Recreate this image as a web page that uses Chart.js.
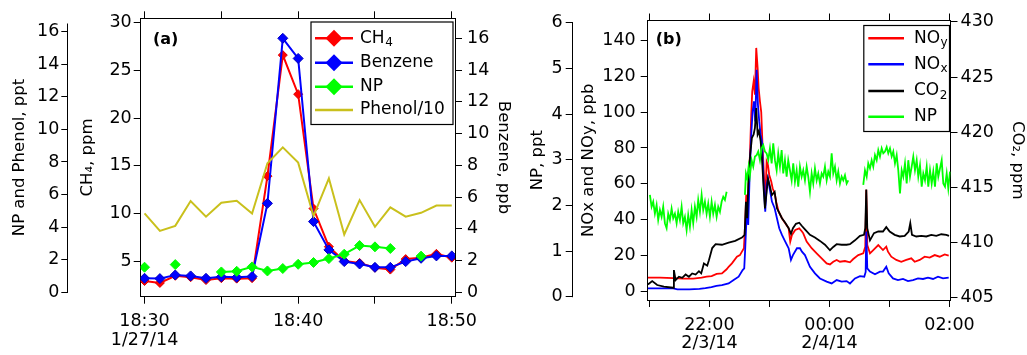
<!DOCTYPE html>
<html><head><meta charset="utf-8">
<script src="https://cdn.jsdelivr.net/npm/chart.js@4.4.1/dist/chart.umd.min.js"></script>
<style>
html,body{margin:0;padding:0;background:#fff;overflow:hidden;width:1027px;height:355px}
#wrapL{position:absolute;left:0;top:0;width:515px;height:355px}
#wrapR{position:absolute;left:517px;top:0;width:510px;height:355px}
canvas{display:block}
</style></head><body>
<div id="wrapL"><canvas id="cL" width="515" height="355" style="width:515px;height:355px"></canvas></div>
<div id="wrapR"><canvas id="cR" width="510" height="355" style="width:510px;height:355px"></canvas></div>
<script>
// ---------- Panel (a) data: minutes after 18:00 on 1/27/14 ----------
const leftTime = [30,31,32,33,34,35,36,37,38,39,40,41,42,43,44,45,46,47,48,49,50];
const ch4Vals = [2.9,2.7,3.45,3.3,3.0,3.2,3.15,3.2,13.9,26.6,22.5,10.5,6.5,5.0,4.8,4.3,4.1,5.2,5.35,5.75,5.35];
const benzeneVals = [0.88,0.86,1.09,1.03,0.88,0.97,0.94,0.99,5.6,16.0,14.73,4.45,2.67,1.93,1.78,1.57,1.57,1.93,2.14,2.29,2.29];
const npLeftVals = [1.54,null,1.70,null,null,1.25,1.29,1.56,1.31,1.46,1.72,1.83,2.07,2.34,2.87,2.79,2.69,null,2.22,null,null];
const phenol10Vals = [4.84,3.77,4.08,5.6,4.64,5.5,5.62,4.84,7.92,8.9,7.96,4.68,7.0,3.55,5.66,4.02,5.21,4.64,4.88,5.33,5.33];
const leftXTicks = [30,35,40,45,50];
const leftXLabels = [['18:30','1/27/14'],'','18:40','','18:50'];
const npPhenolTicks = [0,2,4,6,8,10,12,14,16];
const ch4Ticks = [5,10,15,20,25,30];
const benzeneTicks = [0,2,4,6,8,10,12,14,16];
const legendLeftLabels = [['CH','4'],['Benzene'],['NP'],['Phenol/10']];

// ---------- Panel (b) data: minutes after 21:00 on 2/3/14 ----------
const noyTime = [-1.5,0.5,10.5,23.8,33.8,43.8,52.2,57.2,62.2,67.2,72.5,77.2,79.2,82.5,87.5,90.5,92.5,94.5,95.8,96.8,98.2,99.2,100.5,101.8,102.8,104.2,105.5,106.8,108.2,109.2,110.5,111.8,113.2,114.5,115.8,117.2,118.5,119.8,121.8,123.2,125.2,126.8,129.2,132.5,135.8,139.2,140.8,142.5,145.8,149.8,152.5,153.8,157.2,162.2,167.2,172.2,177.2,180.5,183.8,187.2,190.5,195.5,200.5,203.8,208.8,213.8,215.8,216.8,217.8,220.5,223.8,228.8,233.5,236.8,238.5,241.8,246.8,251.8,256.8,261.8,265.2,270.2,275.2,280.2,285.2,290.2,295.2,299.2];
const noyVals = [7.8,7.8,7.8,7.6,7.3,7.3,7.8,8.4,8.7,9.9,10.2,12.5,13.9,15.8,19.5,20.4,22.3,24.2,39,54,46.5,61.3,76,98.5,111.5,117,109.7,135.7,124.5,113.4,106,100,80,65,50,72.5,70.6,65,61.3,57.6,54.8,50,44.6,40.9,38.1,35.3,27.9,31.6,34.4,35.3,33.5,32.5,27.9,24.2,21.4,18.6,15.8,15.2,16.7,17.7,16.7,17.1,16.4,18.2,20.4,21.4,25,56.7,26,21.4,23.2,26,23.2,25.1,22.3,19.5,17.7,16.7,17.7,18.6,16.7,17.7,19.5,19.0,20.4,19.5,20.8,20.1];
const noxTime = [-1.5,0.5,23.8,28,40,50,56,62,67,72.5,79.2,84.2,89.2,93.2,94.8,95.8,97.5,98.8,100.2,101.8,103.2,104.5,105.8,107.2,108.5,109.8,111.2,112.5,114.2,115.8,117.2,118.5,120.2,122.5,125.2,127.5,129.8,132.5,135.8,139.2,141.5,143.5,147.5,150.5,152.5,155.5,160.5,165.5,170.5,177.2,182.2,187.2,192.2,197.2,200.5,205.5,210.5,214.8,216.2,216.8,217.8,220.5,225.5,230.5,233.5,236.8,239.2,243.5,248.5,253.5,258.5,263.5,268.5,273.5,278.5,283.5,288.5,293.5,299.2];
const noxVals = [1.9,1.9,1.9,1.3,1.3,1.6,2.0,2.6,3.3,3.7,4.6,6.5,8.4,12.1,13,24.2,46.5,37.2,65,87.4,100.4,106,94.8,123.6,104,94.8,87.4,83.7,61.3,44.6,59.5,63.2,57.6,50.2,46.5,40.9,35.3,31.6,27.9,24.2,17.7,20.4,24.2,24.2,22.3,20.4,13.9,10.2,7.4,5.6,4.6,6.5,5.6,5.9,4.6,7.4,8.7,8.4,11,33.5,13,11.2,9.7,11.2,11.2,13.9,10.2,7.4,6.5,7.1,5.9,6.5,7.4,7.1,7.8,7.1,8.4,7.4,7.8];
const co2Time = [-1.5,2.8,7.8,14.5,23.8,24.5,26.2,29.5,32.8,36.2,39.5,42.8,46.2,49.5,51.8,54.5,57.8,59.5,62.8,66.2,72.5,79.2,85.8,92.5,95.2,96.5,97.8,99.2,100.8,102.5,104.2,105.5,106.8,108.2,109.5,111.2,112.5,114.2,115.5,117.2,118.5,120.2,122.5,125.2,127.5,129.8,132.5,135.8,139.2,141.5,143.5,146.5,149.8,152.5,155.5,160.5,165.5,170.5,175.5,180.5,183.8,187.2,192.2,197.2,200.5,205.5,210.5,214.5,215.8,216.8,217.8,220.5,224.5,228.8,233.5,236.8,240.2,245.2,250.2,255.2,259.2,260.8,262.5,266.8,271.8,276.8,281.8,286.8,291.8,296.8,299.5];
const co2Vals = [406.2,406.5,406.15,406.0,405.9,407.5,406.6,406.9,406.8,407.1,406.9,407.2,407.1,407.4,407.2,408.1,407.9,408.4,409.5,409.85,409.8,410.0,410.15,410.45,410.7,413.7,412.2,416.2,418.0,419.5,419.8,420.4,422.2,419.8,420.1,419.2,417.7,414.9,413.1,414.6,415.8,415.2,414.3,414.6,413.1,412.7,412.2,411.8,411.3,410.8,411.3,411.7,411.8,411.5,411.2,410.7,410.45,410.15,409.8,409.3,409.6,409.85,409.8,409.8,409.85,410.2,410.6,410.7,411.3,414.8,411.3,410.2,410.85,411.0,411.0,411.4,411.0,410.7,410.55,410.6,411.0,411.75,410.7,410.55,410.6,410.55,410.7,410.6,410.75,410.7,410.6];
const npRightTime = [0.5,2.2,3.8,5.5,7.2,8.8,10.5,12.2,13.8,15.5,17.2,18.8,20.5,22.2,23.8,25.5,27.2,28.8,30.5,32.2,33.8,35.5,37.2,38.8,40.5,42.2,43.8,45.5,47.2,48.8,50.5,52.2,53.8,55.5,57.2,58.8,60.5,62.2,63.8,65.5,67.2,68.8,70.5,72.2,73.8,75.5,77.2,
  86,
  95.5,96.5,97.8,99.2,100.5,102.2,103.8,105.5,107.2,108.8,110.5,112.2,113.8,115.5,117.2,118.8,120.5,122.2,123.8,125.5,127.2,128.8,130.5,132.2,133.8,135.5,137.2,138.8,140.5,142.2,143.8,145.5,147.2,148.8,150.5,152.2,153.8,155.5,157.2,158.8,160.5,162.2,163.8,165.5,167.2,168.8,170.5,172.2,173.8,175.5,177.2,178.8,180.5,182.2,183.8,185.5,187.2,188.8,190.5,192.2,193.8,195.5,197.2,198.8,
  206,
  213.8,215.5,217.2,218.8,220.5,222.2,223.8,225.5,227.2,228.8,230.5,232.2,233.8,235.5,237.2,238.8,240.5,242.2,243.8,245.5,247.2,248.8,250.5,252.2,253.8,255.5,257.2,258.8,260.5,262.2,263.8,265.5,267.2,268.8,270.5,272.2,273.8,275.5,277.2,278.8,280.5,282.2,283.8,285.5,287.2,288.8,290.5,292.2,293.8,295.5,297.2,298.8,300.5];
const npRightVals = [2.23,1.97,2.08,1.82,2.01,1.68,1.90,1.75,1.97,1.61,1.50,1.82,1.68,1.93,1.72,1.82,1.61,1.86,1.68,1.97,1.61,1.75,1.46,1.79,1.53,1.90,1.61,1.97,1.75,2.12,1.86,2.23,1.90,2.08,1.82,2.04,1.75,2.08,1.82,2.01,1.75,1.97,1.86,2.08,2.19,2.12,2.30,
  null,
  2.23,2.70,2.59,2.85,2.66,2.99,2.85,3.07,3.10,3.18,2.99,3.25,3.32,3.18,3.14,2.99,3.25,2.92,3.36,2.99,2.77,3.14,2.85,3.21,2.70,2.99,2.63,2.99,2.77,2.55,2.92,2.52,2.77,2.41,2.85,2.63,2.77,2.55,2.85,2.63,2.30,2.70,2.48,2.81,2.55,2.70,2.48,2.70,2.63,2.85,2.55,2.74,2.63,3.14,2.70,2.85,2.55,2.74,2.48,2.63,2.55,2.66,2.48,2.55,
  null,
  2.45,2.77,2.63,2.92,2.81,2.99,2.85,3.10,2.99,3.21,3.07,3.25,3.14,3.18,3.28,3.14,3.25,3.07,3.18,2.92,3.10,2.77,2.26,2.77,2.63,2.92,2.48,2.99,2.63,2.85,3.07,2.77,2.99,2.63,2.88,2.41,2.70,2.55,2.85,2.41,2.77,2.48,2.74,2.41,2.92,2.63,2.81,2.99,2.48,2.41,2.70,2.37,2.74];
const rightXTicks = [0,60,120,180,240,300];
const rightXLabels = ['',['22:00','2/3/14'],'',['00:00','2/4/14'],'','02:00'];
const npRightTicks = [0,1,2,3,4,5,6];
const noxTicks = [0,20,40,60,80,100,120,140];
const co2Ticks = [405,410,415,420,425,430];
const legendRightLabels = [['NO','y'],['NO','x'],['CO','2'],['NP']];

// ---------- helpers ----------
const FAM = '"DejaVu Sans", sans-serif';
const TICK_FONT = {family: FAM, size: 17.5, lineHeight: 1.05};
const TITLE_FONT = {family: FAM, size: 16.5, lineHeight: 1.2};
const GRID = {drawOnChartArea: false, drawTicks: true, tickLength: 7, color: '#000', tickColor: '#000', lineWidth: 1};
const BORDER = {display: true, color: '#000', width: 1};

function pts(xs, ys) { return xs.map((x, i) => ({x: x, y: ys[i]})); }

function yAxis(pos, min, max, tickVals, width, title, titlePad, tickPad, weight, showBorder) {
  return {
    type: 'linear', position: pos, min: min, max: max, weight: weight,
    afterBuildTicks: s => { s.ticks = tickVals.map(v => ({value: v})); },
    afterFit: s => { s.width = width; },
    ticks: {font: TICK_FONT, color: '#000', padding: tickPad, autoSkip: false},
    grid: GRID, border: {display: showBorder, color: '#000', width: 1},
    title: {display: true, text: title, font: TITLE_FONT, color: '#000', padding: {top: titlePad, bottom: 0}}
  };
}
function xAxis(pos, min, max, tickVals, labels, height, show) {
  return {
    type: 'linear', position: pos, min: min, max: max,
    afterBuildTicks: s => { s.ticks = tickVals.map(v => ({value: v})); },
    afterFit: s => { s.height = height; },
    ticks: {display: show, font: TICK_FONT, color: '#000', padding: 9, autoSkip: false, maxRotation: 0, minRotation: 0,
      callback: (v, i) => labels[i]},
    grid: GRID, border: BORDER
  };
}

function richText(ctx, parts, x, y) {
  ctx.font = '17px ' + FAM;
  ctx.fillStyle = '#000'; ctx.textBaseline = 'middle'; ctx.textAlign = 'left';
  ctx.fillText(parts[0], x, y);
  if (parts.length > 1) {
    const w = ctx.measureText(parts[0]).width;
    ctx.font = '12px ' + FAM;
    ctx.fillText(parts[1], x + w + 0.5, y + 5);
  }
}

function annotPlugin(cfg) {
  return {
    id: 'annot',
    afterDraw(chart) {
      const ctx = chart.ctx;
      ctx.save();
      // free-standing outer axis line, spanning its tick range
      const s = chart.scales[cfg.outerAxis];
      const ax = Math.round(s.right) - 0.5;
      ctx.strokeStyle = '#000'; ctx.lineWidth = 1;
      ctx.beginPath();
      ctx.moveTo(ax, s.getPixelForValue(cfg.outerTop));
      ctx.lineTo(ax, s.getPixelForValue(cfg.outerBottom) + 0.5);
      ctx.stroke();
      // panel label
      ctx.font = 'bold 16px ' + FAM;
      ctx.fillStyle = '#000'; ctx.textBaseline = 'middle'; ctx.textAlign = 'left';
      ctx.fillText(cfg.panel, cfg.panelX, cfg.panelY);
      // legend
      const b = cfg.box;
      ctx.fillStyle = '#fff';
      ctx.fillRect(b[0], b[1], b[2] - b[0], b[3] - b[1]);
      ctx.strokeStyle = '#000'; ctx.lineWidth = 1.2;
      ctx.strokeRect(b[0] + 0.5, b[1] + 0.5, b[2] - b[0], b[3] - b[1]);
      cfg.labels.forEach((lab, i) => {
        const ds = chart.data.datasets[i];
        const y = cfg.rows[i];
        ctx.strokeStyle = ds.borderColor; ctx.lineWidth = 2.5;
        ctx.beginPath(); ctx.moveTo(cfg.lineX[0], y); ctx.lineTo(cfg.lineX[1], y); ctx.stroke();
        if (ds.pointRadius > 0) {
          const cx = (cfg.lineX[0] + cfg.lineX[1]) / 2, r = 8.5;
          ctx.fillStyle = ds.borderColor;
          ctx.beginPath(); ctx.moveTo(cx, y - r); ctx.lineTo(cx + r, y); ctx.lineTo(cx, y + r); ctx.lineTo(cx - r, y); ctx.closePath(); ctx.fill();
        }
        richText(ctx, lab, cfg.textX, y);
      });
      ctx.restore();
    }
  };
}

Chart.defaults.font.family = FAM;
Chart.defaults.color = '#000';

// ---------- Panel (a) ----------
new Chart(document.getElementById('cL'), {
  type: 'line',
  data: {
    datasets: [
      {label: 'CH4', data: pts(leftTime, ch4Vals), yAxisID: 'yCH4', borderColor: '#ff0000', backgroundColor: '#ff0000',
       borderWidth: 2, pointStyle: 'rectRot', pointRadius: 4.5, pointBorderWidth: 1, pointBorderColor: '#e00000', order: 3},
      {label: 'Benzene', data: pts(leftTime, benzeneVals), yAxisID: 'yBenz', borderColor: '#0000ff', backgroundColor: '#0000ff',
       borderWidth: 2, pointStyle: 'rectRot', pointRadius: 5, pointBorderWidth: 1, pointBorderColor: '#0000c0', order: 2},
      {label: 'NP', data: pts(leftTime, npLeftVals), yAxisID: 'yNP', borderColor: '#00ff00', backgroundColor: '#00ff00',
       borderWidth: 2, pointStyle: 'rectRot', pointRadius: 5, pointBorderWidth: 1, order: 1},
      {label: 'Phenol/10', data: pts(leftTime, phenol10Vals), yAxisID: 'yNP', borderColor: '#c9c01c', backgroundColor: '#c9c01c',
       borderWidth: 2, pointRadius: 0, order: 0}
    ]
  },
  options: {
    responsive: false, animation: false, devicePixelRatio: 1,
    layout: {padding: 0},
    plugins: {legend: {display: false}, tooltip: {enabled: false}},
    scales: {
      x: xAxis('bottom', 29.75, 50.21, leftXTicks, leftXLabels, 58.3, true),
      xTop: xAxis('top', 29.75, 50.21, leftXTicks, leftXLabels, 18.3, false),
      yNP: yAxis('left', -0.27, 16.82, npPhenolTicks, 68.3, 'NP and Phenol, ppt', 10, 2, 1, false),
      yCH4: yAxis('left', 1.255, 30.46, ch4Ticks, 72.4, 'CH\u2084, ppm', 9.8, 2, 0, true),
      yBenz: yAxis('right', -0.28, 17.26, benzeneTicks, 60, 'Benzene, ppb', 1.8, 5, 0, true)
    }
  },
  plugins: [annotPlugin({panel: '(a)', panelX: 153, panelY: 40, box: [310.5, 21.5, 452.5, 124],
    rows: [38.3, 62.7, 86.7, 110], lineX: [315, 353], textX: 360, labels: legendLeftLabels,
    outerAxis: 'yNP', outerTop: 16.5, outerBottom: 0})]
});

// ---------- Panel (b) ----------
new Chart(document.getElementById('cR'), {
  type: 'line',
  data: {
    datasets: [
      {label: 'NOy', data: pts(noyTime, noyVals), yAxisID: 'yNOx', borderColor: '#ff0000', borderWidth: 1.8, pointRadius: 0, order: 3},
      {label: 'NOx', data: pts(noxTime, noxVals), yAxisID: 'yNOx', borderColor: '#0000ff', borderWidth: 1.8, pointRadius: 0, order: 2},
      {label: 'CO2', data: pts(co2Time, co2Vals), yAxisID: 'yCO2', borderColor: '#000000', borderWidth: 1.8, pointRadius: 0, order: 1},
      {label: 'NP', data: pts(npRightTime, npRightVals), yAxisID: 'yNP', borderColor: '#00ff00', borderWidth: 1.8, pointRadius: 0, order: 0}
    ]
  },
  options: {
    responsive: false, animation: false, devicePixelRatio: 1,
    layout: {padding: 0},
    plugins: {legend: {display: false}, tooltip: {enabled: false}},
    scales: {
      x: xAxis('bottom', -1.7, 301, rightXTicks, rightXLabels, 55, true),
      xTop: xAxis('top', -1.7, 301, rightXTicks, rightXLabels, 20.5, false),
      yNP: yAxis('left', -0.072, 6.05, npRightTicks, 55.7, 'NP, ppt', 11, 3, 1, false),
      yNOx: yAxis('left', -4.6, 150.96, noxTicks, 75, 'NOx and NOy, ppb', 6.3, 5, 0, true),
      yCO2: yAxis('right', 404.79, 430.13, co2Ticks, 76.5, 'CO\u2082, ppm', 0, 3, 0, true)
    }
  },
  plugins: [annotPlugin({panel: '(b)', panelX: 138.7, panelY: 40, box: [346.3, 25, 432, 131],
    rows: [38.3, 64.3, 91, 116.7], lineX: [351.3, 387], textX: 397, labels: legendRightLabels,
    outerAxis: 'yNP', outerTop: 6, outerBottom: 0})]
});
</script>
</body></html>
